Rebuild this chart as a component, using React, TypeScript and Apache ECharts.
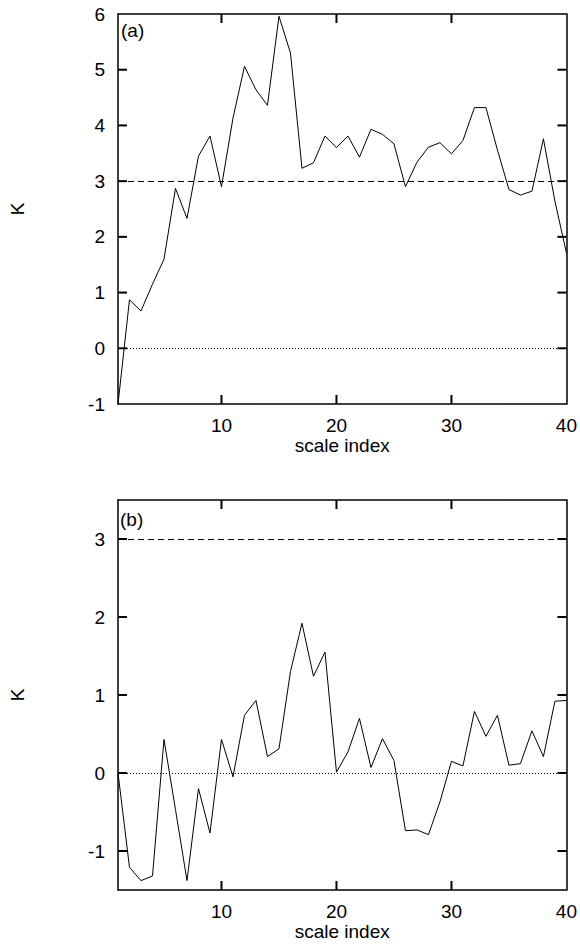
import React, { useEffect, useRef } from "react";
import * as echarts from "echarts";

const scaleIndex = [
  1, 2, 3, 4, 5, 6, 7, 8, 9, 10, 11, 12, 13, 14, 15, 16, 17, 18, 19, 20,
  21, 22, 23, 24, 25, 26, 27, 28, 29, 30, 31, 32, 33, 34, 35, 36, 37, 38, 39, 40,
];

const kurtosisA = [
  -1.0, 0.87, 0.67, 1.15, 1.6, 2.87, 2.33, 3.45, 3.81, 2.9,
  4.13, 5.06, 4.64, 4.36, 5.96, 5.3, 3.23, 3.33, 3.81, 3.6,
  3.81, 3.43, 3.93, 3.84, 3.67, 2.9, 3.34, 3.61, 3.69, 3.49,
  3.73, 4.32, 4.32, 3.56, 2.85, 2.75, 2.82, 3.76, 2.64, 1.71,
];

const kurtosisB = [
  0.0, -1.21, -1.38, -1.32, 0.43, -0.47, -1.38, -0.2, -0.77, 0.43,
  -0.05, 0.74, 0.93, 0.21, 0.31, 1.3, 1.92, 1.24, 1.55, 0.01,
  0.27, 0.7, 0.07, 0.44, 0.16, -0.74, -0.73, -0.79, -0.37, 0.15,
  0.09, 0.79, 0.47, 0.74, 0.1, 0.12, 0.54, 0.21, 0.92, 0.93,
];

const xTicks = [10, 20, 30];
const xTickLabels = [10, 20, 30, 40];
const yTicksA = [-1, 0, 1, 2, 3, 4, 5, 6];
const yTicksB = [-1, 0, 1, 2, 3];
const refDashed = 3;
const refDotted = 0;
const panelLabels = ["(a)", "(b)"];
const xTitle = "scale index";
const yTitle = "K";

const FONT = "Liberation Sans";
const FS = 19;
const TICK_LEN = 9;

export default function App() {
  const ref = useRef<HTMLDivElement>(null);

  useEffect(() => {
    if (!ref.current) return;
    const chart = echarts.init(ref.current, null, { renderer: "svg" });

    const X_MIN = 1;
    const X_MAX = 40;
    const grids = [
      { left: 114, top: 14, width: 455, height: 390 },
      { left: 114, top: 500, width: 455, height: 390 },
    ];
    const yRanges = [
      { min: -1, max: 6, ticks: yTicksA },
      { min: -1.5, max: 3.5, ticks: yTicksB },
    ];
    const datasets = [kurtosisA, kurtosisB];

    const mkLine = () => ({ show: true, onZero: false, lineStyle: { color: "#000", width: 1.5 } });
    const xAxis: any[] = [];
    const yAxis: any[] = [];
    const series: any[] = [];

    grids.forEach((g, gi) => {
      const yr = yRanges[gi];
      xAxis.push({
        type: "value",
        gridIndex: gi,
        min: X_MIN,
        max: X_MAX,
        position: "bottom",
        axisLine: mkLine(),
        axisTick: { show: false },
        axisLabel: { show: true, customValues: xTickLabels, color: "#000", fontFamily: FONT, fontSize: FS, margin: 12 },
        splitLine: { show: false },
        name: xTitle,
        nameLocation: "middle",
        nameGap: 32,
        nameTextStyle: { color: "#000", fontFamily: FONT, fontSize: FS },
      });
      xAxis.push({
        type: "value",
        gridIndex: gi,
        min: X_MIN,
        max: X_MAX,
        position: "top",
        axisLine: mkLine(),
        axisTick: { show: false },
        axisLabel: { show: false },
        splitLine: { show: false },
      });
      yAxis.push({
        type: "value",
        gridIndex: gi,
        min: yr.min,
        max: yr.max,
        position: "left",
        axisLine: mkLine(),
        axisTick: { show: false },
        axisLabel: { show: true, customValues: yr.ticks, color: "#000", fontFamily: FONT, fontSize: FS, margin: 13 },
        splitLine: { show: false },
        name: yTitle,
        nameLocation: "middle",
        nameRotate: 90,
        nameGap: 91,
        nameTextStyle: { color: "#000", fontFamily: FONT, fontSize: FS },
      });
      yAxis.push({
        type: "value",
        gridIndex: gi,
        min: yr.min,
        max: yr.max,
        position: "right",
        axisLine: mkLine(),
        axisTick: { show: false },
        axisLabel: { show: false },
        splitLine: { show: false },
      });
      series.push({
        type: "line",
        xAxisIndex: gi * 2,
        yAxisIndex: gi * 2,
        data: scaleIndex.map((x, i) => [x, datasets[gi][i]]),
        showSymbol: false,
        symbol: "none",
        lineStyle: { color: "#000", width: 1 },
        clip: true,
        z: 3,
        markLine: {
          silent: true,
          symbol: "none",
          label: { show: false },
          data: [
            { yAxis: refDashed, lineStyle: { color: "#000", width: 1, type: [6, 4] } },
            { yAxis: refDotted, lineStyle: { color: "#000", width: 1, type: [1, 2] } },
          ],
        },
      });
      // inside tick marks, mirrored on all four sides, placed through the axes' scales
      const tickRows = [
        ...xTicks.map((v) => [v, 0]),
        ...yr.ticks.filter((v) => v > yr.min && v < yr.max).map((v) => [v, 1]),
      ];
      series.push({
        type: "custom",
        name: "ticks" + gi,
        xAxisIndex: gi * 2,
        yAxisIndex: gi * 2,
        silent: true,
        clip: false,
        z: 10,
        encode: { x: 0, y: 1 },
        data: tickRows,
        renderItem: (params: any, api: any) => {
          const v = api.value(0);
          const kind = api.value(1);
          const style = { stroke: "#000", lineWidth: 2, fill: "none" };
          if (kind === 0) {
            const b = api.coord([v, yr.min]);
            const t = api.coord([v, yr.max]);
            return {
              type: "group",
              children: [
                { type: "line", shape: { x1: b[0], y1: b[1], x2: b[0], y2: b[1] - TICK_LEN }, style },
                { type: "line", shape: { x1: t[0], y1: t[1], x2: t[0], y2: t[1] + TICK_LEN }, style },
              ],
            };
          }
          const l = api.coord([X_MIN, v]);
          const r = api.coord([X_MAX, v]);
          return {
            type: "group",
            children: [
              { type: "line", shape: { x1: l[0], y1: l[1], x2: l[0] + TICK_LEN, y2: l[1] }, style },
              { type: "line", shape: { x1: r[0], y1: r[1], x2: r[0] - TICK_LEN, y2: r[1] }, style },
            ],
          };
        },
      });
    });

    chart.setOption({
      animation: false,
      backgroundColor: "#fff",
      grid: grids,
      xAxis,
      yAxis,
      series,
      graphic: [
        {
          type: "text",
          left: 121,
          top: 21,
          style: { text: panelLabels[0], fill: "#000", font: `${FS}px "${FONT}"` },
        },
        {
          type: "text",
          left: 120,
          top: 510,
          style: { text: panelLabels[1], fill: "#000", font: `${FS}px "${FONT}"` },
        },
      ],
    });

    return () => chart.dispose();
  }, []);

  return (
    <div
      ref={ref}
      style={{ position: "fixed", left: 0, top: 0, width: 580, height: 944 }}
    />
  );
}
